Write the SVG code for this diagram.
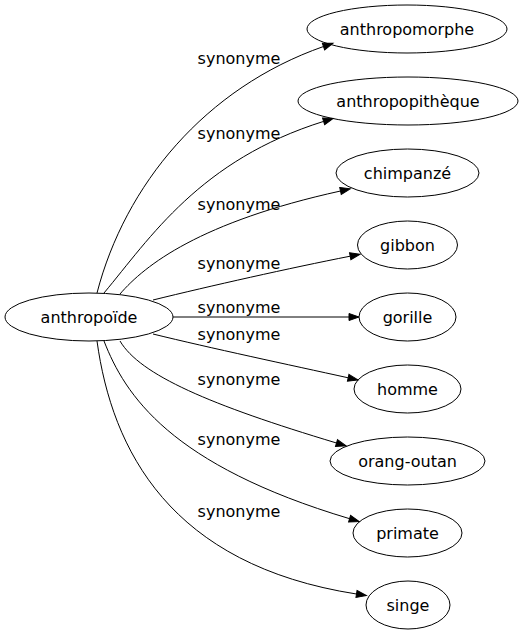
<svg xmlns="http://www.w3.org/2000/svg" width="523" height="635" viewBox="0 0 523 635">
<style>
text{font-family:"DejaVu Sans","Liberation Sans",sans-serif;font-size:16px;fill:#000;text-anchor:middle}
.node ellipse{fill:none;stroke:#000;stroke-width:1}
.edges path{fill:none;stroke:#000;stroke-width:1;marker-end:url(#arr)}
</style>
<defs>
<marker id="arr" markerUnits="userSpaceOnUse" markerWidth="11" markerHeight="8" refX="0" refY="3.5" orient="auto" overflow="visible">
<path d="M0,0 L10,3.5 L0,7 z" fill="#000" stroke="#000" stroke-width="1"/>
</marker>
</defs>
<rect width="523" height="635" fill="#fff"/>
<g class="edges" id="edges">
<path d="M97,293 C125,185 205,88 323.5,46.5"/>
<path d="M104,293 C150,238 200,160 323.6,121.4"/>
<path d="M120,294 C145,265 200,222 340.5,191"/>
<path d="M153,300 C210,286 290,268 350.2,256.2"/>
<path d="M173,317 L349,317"/>
<path d="M153,334 C210,348 290,365 348.2,377.8"/>
<path d="M120,341 C140,375 210,405 336.5,443"/>
<path d="M104,341 C125,395 170,465 349.6,518.7"/>
<path d="M97,341 C112,450 170,565 356.5,594"/>
<text x="239" y="63.5">synonyme</text>
<text x="239" y="138.5">synonyme</text>
<text x="239" y="209.5">synonyme</text>
<text x="239" y="268.5">synonyme</text>
<text x="239" y="312.5">synonyme</text>
<text x="239" y="340">synonyme</text>
<text x="239" y="385">synonyme</text>
<text x="239" y="445">synonyme</text>
<text x="239" y="516.5">synonyme</text>
</g>
<g class="node" id="n-anthropoide"><ellipse cx="89" cy="317" rx="84" ry="24"/><text x="89" y="323">anthropoïde</text></g>
<g class="node" id="n-anthropomorphe"><ellipse cx="407" cy="29" rx="100" ry="24"/><text x="407" y="35">anthropomorphe</text></g>
<g class="node" id="n-anthropopitheque"><ellipse cx="408" cy="101" rx="110" ry="24"/><text x="408" y="107">anthropopithèque</text></g>
<g class="node" id="n-chimpanze"><ellipse cx="407.5" cy="173" rx="71.5" ry="24"/><text x="407.5" y="179">chimpanzé</text></g>
<g class="node" id="n-gibbon"><ellipse cx="407.5" cy="245" rx="50" ry="24"/><text x="407.5" y="251">gibbon</text></g>
<g class="node" id="n-gorille"><ellipse cx="407.5" cy="317" rx="48.5" ry="24"/><text x="407.5" y="323">gorille</text></g>
<g class="node" id="n-homme"><ellipse cx="407.5" cy="389" rx="53.5" ry="24"/><text x="407.5" y="395">homme</text></g>
<g class="node" id="n-orang-outan"><ellipse cx="407.5" cy="461" rx="77.5" ry="24"/><text x="407.5" y="467">orang-outan</text></g>
<g class="node" id="n-primate"><ellipse cx="407.5" cy="533" rx="54.5" ry="24"/><text x="407.5" y="539">primate</text></g>
<g class="node" id="n-singe"><ellipse cx="408" cy="605" rx="42" ry="24"/><text x="408" y="611">singe</text></g>
</svg>
